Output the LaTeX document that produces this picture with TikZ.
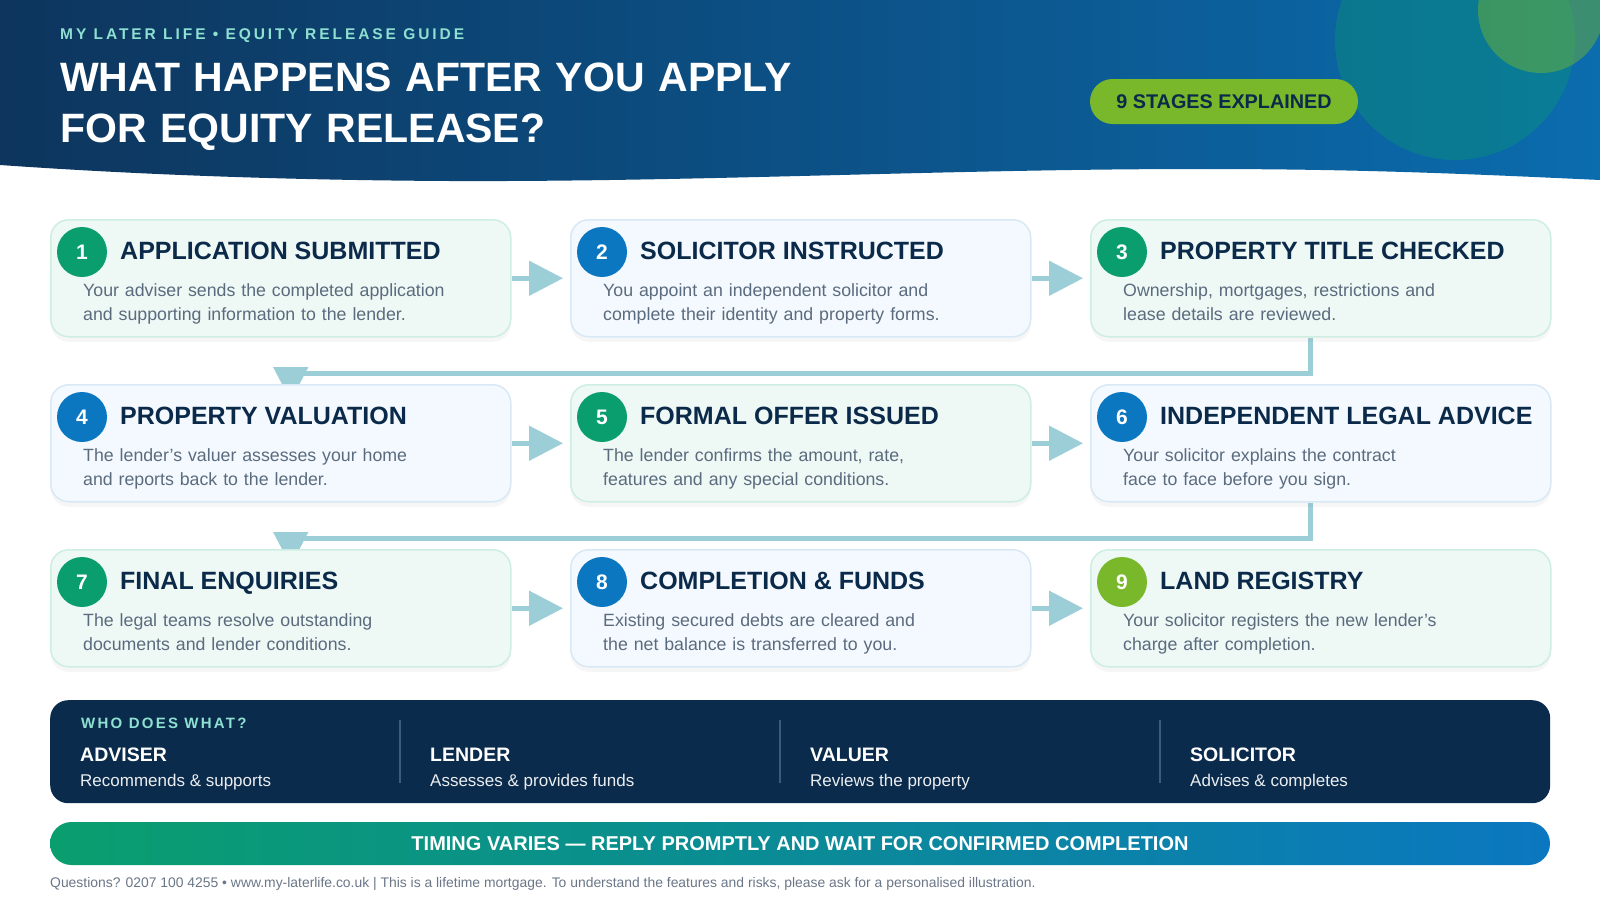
\documentclass[tikz,border=0pt]{standalone}
\usepackage{fontspec}
\setmainfont{Liberation Sans}
\newfontfamily\spacedfont{Liberation Sans}[LetterSpace=15]
\newfontfamily\brandfont{Liberation Sans}[LetterSpace=19]
\usetikzlibrary{arrows.meta,calc,shadows}
\pgfdeclarelayer{bg}
\pgfsetlayers{bg,main}
\definecolor{hdark}{HTML}{0D355D}
\definecolor{hlight}{HTML}{0B6CAE}
\definecolor{navy}{HTML}{0B2A4A}
\definecolor{bodyc}{HTML}{5B6B7E}
\definecolor{tealtxt}{HTML}{8EE0D1}
\definecolor{dotgreen}{HTML}{0A9E6E}
\definecolor{dotblue}{HTML}{0B77C0}
\definecolor{dotlime}{HTML}{78B82A}
\definecolor{mintfill}{HTML}{EEF8F5}
\definecolor{mintline}{HTML}{CFEEE2}
\definecolor{bluefill}{HTML}{F3F9FE}
\definecolor{blueline}{HTML}{D8E9F5}
\definecolor{arrowc}{HTML}{9CCED8}
\definecolor{panelc}{HTML}{0B2B4C}
\definecolor{dividerc}{HTML}{3D5A78}
\definecolor{footc}{HTML}{6B7788}
\newcommand{\stagecard}[8]{%
\node[#4, anchor=north west] (#1) at (#2,#3) {};
\node[#5] (#1n) at ($(#1.north west)+(32,33)$) {#6};
\node[stagetitle] (#1t) at ($(#1.north west)+(70,40)$) {#7};
\node[stagebody] (#1b) at ($(#1.north west)+(33,77)$) {#8};
}

\begin{document}
\begin{tikzpicture}[x=1pt,y=-1pt,
  card/.style={rectangle, rounded corners=18pt, line width=1.5pt, minimum width=460pt, minimum height=117pt, inner sep=0pt,
    drop shadow={opacity=0.07, shadow xshift=0pt, shadow yshift=-5pt}},
  mintcard/.style={card, fill=mintfill, draw=mintline},
  bluecard/.style={card, fill=bluefill, draw=blueline},
  dot/.style={circle, minimum size=50pt, inner sep=0pt, text=white, font=\bfseries\fontsize{21}{21}\selectfont},
  greendot/.style={dot, fill=dotgreen},
  bluedot/.style={dot, fill=dotblue},
  limedot/.style={dot, fill=dotlime},
  stagetitle/.style={anchor=base west, inner sep=0pt, text=navy, font=\bfseries\fontsize{25}{29}\selectfont},
  stagebody/.style={anchor=base west, inner sep=0pt, text=bodyc, text width=440pt, align=left, font=\fontsize{17.75}{24}\selectfont},
  flow/.style={draw=arrowc, line width=5pt, -{Triangle[length=34pt,width=34pt]}},
  rolename/.style={anchor=base west, inner sep=0pt, text=white, font=\bfseries\fontsize{19.5}{23}\selectfont},
  roletext/.style={anchor=base west, inner sep=0pt, text=white!92!panelc, font=\fontsize{17}{20}\selectfont},
  divider/.style={draw=dividerc, line width=1.2pt}]
\useasboundingbox (0,0) rectangle (1600,900);
\begin{pgfonlayer}{bg}
\fill[white] (0,0) rectangle (1600,900);
\end{pgfonlayer}
% header band
\shade[left color=hdark, right color=hlight] (0,0) -- (1600,0) -- (1600,180)
  .. controls (1450,173) and (1350,169) .. (1200,169)
  .. controls (950,169) and (700,182) .. (450,181)
  .. controls (250,180) and (100,172) .. (0,165) -- cycle;
\fill[dotgreen, opacity=0.35] (1455,40) circle (120);
\fill[dotlime, opacity=0.45] (1541,10) circle (63);
\node[anchor=base west, inner sep=0pt, text=tealtxt, font=\brandfont\bfseries\fontsize{15.5}{18}\selectfont] (brand) at (60,39) {MY LATER LIFE • EQUITY RELEASE GUIDE};
\node[anchor=base west, inner sep=0pt, text=white, text width=800pt, align=left, font=\bfseries\fontsize{41}{51}\selectfont] (title) at (60,91) {WHAT HAPPENS AFTER YOU APPLY\\FOR EQUITY RELEASE?};
\node[fill=dotlime, rounded corners=22.5pt, minimum width=268pt, minimum height=45pt, inner sep=0pt, text=navy, font=\bfseries\fontsize{19.8}{22}\selectfont] (stages) at (1224,101.5) {9 STAGES EXPLAINED};
% stage cards
\stagecard{s1}{50}{219}{mintcard}{greendot}{1}{APPLICATION SUBMITTED}{Your adviser sends the completed application\\and supporting information to the lender.}
\stagecard{s2}{570}{219}{bluecard}{bluedot}{2}{SOLICITOR INSTRUCTED}{You appoint an independent solicitor and\\complete their identity and property forms.}
\stagecard{s3}{1090}{219}{mintcard}{greendot}{3}{PROPERTY TITLE CHECKED}{Ownership, mortgages, restrictions and\\lease details are reviewed.}
\stagecard{s4}{50}{384}{bluecard}{bluedot}{4}{PROPERTY VALUATION}{The lender’s valuer assesses your home\\and reports back to the lender.}
\stagecard{s5}{570}{384}{mintcard}{greendot}{5}{FORMAL OFFER ISSUED}{The lender confirms the amount, rate,\\features and any special conditions.}
\stagecard{s6}{1090}{384}{bluecard}{bluedot}{6}{INDEPENDENT LEGAL ADVICE}{Your solicitor explains the contract\\face to face before you sign.}
\stagecard{s7}{50}{549}{mintcard}{greendot}{7}{FINAL ENQUIRIES}{The legal teams resolve outstanding\\documents and lender conditions.}
\stagecard{s8}{570}{549}{bluecard}{bluedot}{8}{COMPLETION \& FUNDS}{Existing secured debts are cleared and\\the net balance is transferred to you.}
\stagecard{s9}{1090}{549}{mintcard}{limedot}{9}{LAND REGISTRY}{Your solicitor registers the new lender’s\\charge after completion.}
\begin{pgfonlayer}{bg}
\draw[flow, shorten >=7pt] (s1.east) -- (s2.west);
\draw[flow, shorten >=7pt] (s2.east) -- (s3.west);
\draw[flow, shorten >=7pt] (s4.east) -- (s5.west);
\draw[flow, shorten >=7pt] (s5.east) -- (s6.west);
\draw[flow, shorten >=7pt] (s7.east) -- (s8.west);
\draw[flow, shorten >=7pt] (s8.east) -- (s9.west);
\draw[flow] ($(s3.south)+(-10,0)$) |- ($(s4.north)+(10,-11)$) -- ($(s4.north)+(10,17)$);
\draw[flow] ($(s6.south)+(-10,0)$) |- ($(s7.north)+(10,-11)$) -- ($(s7.north)+(10,17)$);
\end{pgfonlayer}
% who does what
\node[fill=panelc, rounded corners=18pt, minimum width=1500pt, minimum height=103pt, inner sep=0pt, anchor=north west] (who) at (50,700) {};
\node[anchor=base west, inner sep=0pt, text=tealtxt, font=\spacedfont\bfseries\fontsize{15}{18}\selectfont] (whohead) at (81,728) {WHO DOES WHAT?};
\draw[divider] (400,720) -- (400,783);
\draw[divider] (780,720) -- (780,783);
\draw[divider] (1160,720) -- (1160,783);
\node[rolename] (adviser) at (80,761) {ADVISER};
\node[roletext] (adviserd) at (80,786) {Recommends \& supports};
\node[rolename] (lender) at (430,761) {LENDER};
\node[roletext] (lenderd) at (430,786) {Assesses \& provides funds};
\node[rolename] (valuer) at (810,761) {VALUER};
\node[roletext] (valuerd) at (810,786) {Reviews the property};
\node[rolename] (solicitor) at (1190,761) {SOLICITOR};
\node[roletext] (solicitord) at (1190,786) {Advises \& completes};
% timing bar and footer
\node[left color=dotgreen, right color=dotblue, rounded corners=21.5pt, minimum width=1500pt, minimum height=43pt, inner sep=0pt, text=white, font=\bfseries\fontsize{20}{24}\selectfont] (timing) at (800,843.5) {TIMING VARIES — REPLY PROMPTLY AND WAIT FOR CONFIRMED COMPLETION};
\node[anchor=base west, inner sep=0pt, text=footc, font=\fontsize{13.9}{16}\selectfont] (footer) at (50,887) {Questions? 0207 100 4255 • www.my-laterlife.co.uk | This is a lifetime mortgage. To understand the features and risks, please ask for a personalised illustration.};
\end{tikzpicture}
\end{document}
